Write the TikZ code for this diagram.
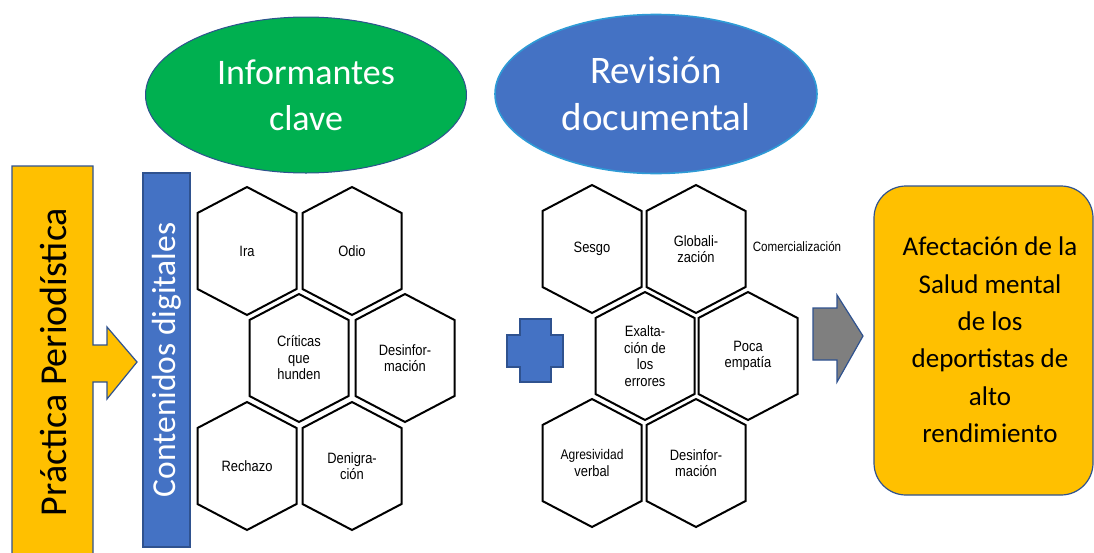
\documentclass[tikz,border=0pt]{standalone}
\usepackage{fontspec}
\setmainfont{Carlito}
\newfontfamily\hexfont{Liberation Sans}[FakeStretch=0.86]
\usetikzlibrary{shapes.geometric}
\definecolor{cyellow}{HTML}{FFC000}
\definecolor{cgreen}{HTML}{00B050}
\definecolor{cblue}{HTML}{4472C4}
\definecolor{cedge}{HTML}{2F528F}
\definecolor{clight}{HTML}{2E9BD6}
\definecolor{cgray}{HTML}{7F7F7F}
\tikzset{
  hexline/.style={draw=black, line width=2pt, line join=miter},
  hextext/.style={font=\hexfont\fontsize{15}{16.5}\selectfont, align=center, inner sep=0pt},
  shapeedge/.style={draw=cedge, line width=1.2pt, line join=miter},
  bigwhite/.style={text=white, align=center, inner sep=0pt},
}
\newcommand{\hexcell}[4]{%
  \draw[hexline] (#2,#3) ++(0,-64) -- ++(49.5,26) -- ++(0,76) -- ++(-49.5,26)
     -- ++(-49.5,-26) -- ++(0,-76) -- cycle;
  \node[hextext] (#1) at (#2,#3) {#4};}
\begin{document}
\begin{tikzpicture}[x=1pt,y=-1pt]
\useasboundingbox (0,0) rectangle (1094,552);
% Practica Periodistica arrow block
\draw[shapeedge, fill=cyellow] (12,166) -- (93,166) -- (93,345) -- (107,345) -- (107,327)
  -- (137,362) -- (107,399) -- (107,382) -- (93,382) -- (93,560) -- (12,560) -- cycle;
\node[rotate=90, inner sep=0pt, font=\fontsize{38}{44}\selectfont] (prac) at (53,362) {Práctica Periodística};
% Contenidos digitales
\node[shapeedge, fill=cblue, rotate=90, minimum width=374pt, minimum height=47pt, inner sep=0pt,
  text=white, font=\fontsize{33.5}{40}\selectfont] (cont) at (166.5,360) {Contenidos digitales};
% Ellipses
\node[ellipse, fill=cgreen, draw=cedge, line width=1pt, minimum width=321pt, minimum height=156pt,
  bigwhite, font=\fontsize{36}{46}\selectfont] (inf) at (306,95) {Informantes\\clave};
\node[ellipse, fill=cblue, draw=clight, line width=1.6pt, minimum width=322pt, minimum height=159pt,
  bigwhite, font=\fontsize{39}{47}\selectfont] (rev) at (656,94) {Revisión\\documental};
% Left hexagons
\hexcell{ira}{247}{251}{Ira}
\hexcell{odio}{352}{251}{Odio}
\hexcell{crit}{299}{358}{Críticas\\que\\hunden}
\hexcell{desa}{405}{358}{Desinfor-\\mación}
\hexcell{rech}{247}{466}{Rechazo}
\hexcell{deni}{352}{466}{Denigra-\\ción}
% Plus sign
\draw[shapeedge, fill=cblue] (520,319) -- (551,319) -- (551,335) -- (563,335) -- (563,367)
  -- (551,367) -- (551,382) -- (520,382) -- (520,367) -- (507,367) -- (507,335) -- (520,335) -- cycle;
% Right hexagons
\hexcell{sesgo}{592}{249}{Sesgo}
\hexcell{glob}{696}{249}{Globali-\\zación}
\hexcell{exal}{645}{356}{Exalta-\\ción de\\los\\errores}
\hexcell{poca}{748}{356}{Poca\\empatía}
\hexcell{agre}{592}{463}{\fontsize{14}{16.5}\selectfont Agresividad\\verbal}
\hexcell{desb}{696}{463}{Desinfor-\\mación}
\node[hextext, font=\hexfont\fontsize{13.5}{15}\selectfont] (comer) at (797,247) {Comercialización};
% Gray arrow
\draw[shapeedge, fill=cgray] (813,308) -- (837,308) -- (837,295) -- (863,336) -- (837,382)
  -- (837,360) -- (813,360) -- cycle;
% Result box
\node[shapeedge, fill=cyellow, rounded corners=32pt, minimum width=219pt, minimum height=309pt,
  inner sep=0pt] (box) at (983.5,340.5) {};
\node[align=center, inner sep=0pt, font=\fontsize{27}{37.4}\selectfont] (salud) at (990,340)
  {Afectación de la\\Salud mental\\de los\\deportistas de\\alto\\rendimiento};
\end{tikzpicture}
\end{document}
